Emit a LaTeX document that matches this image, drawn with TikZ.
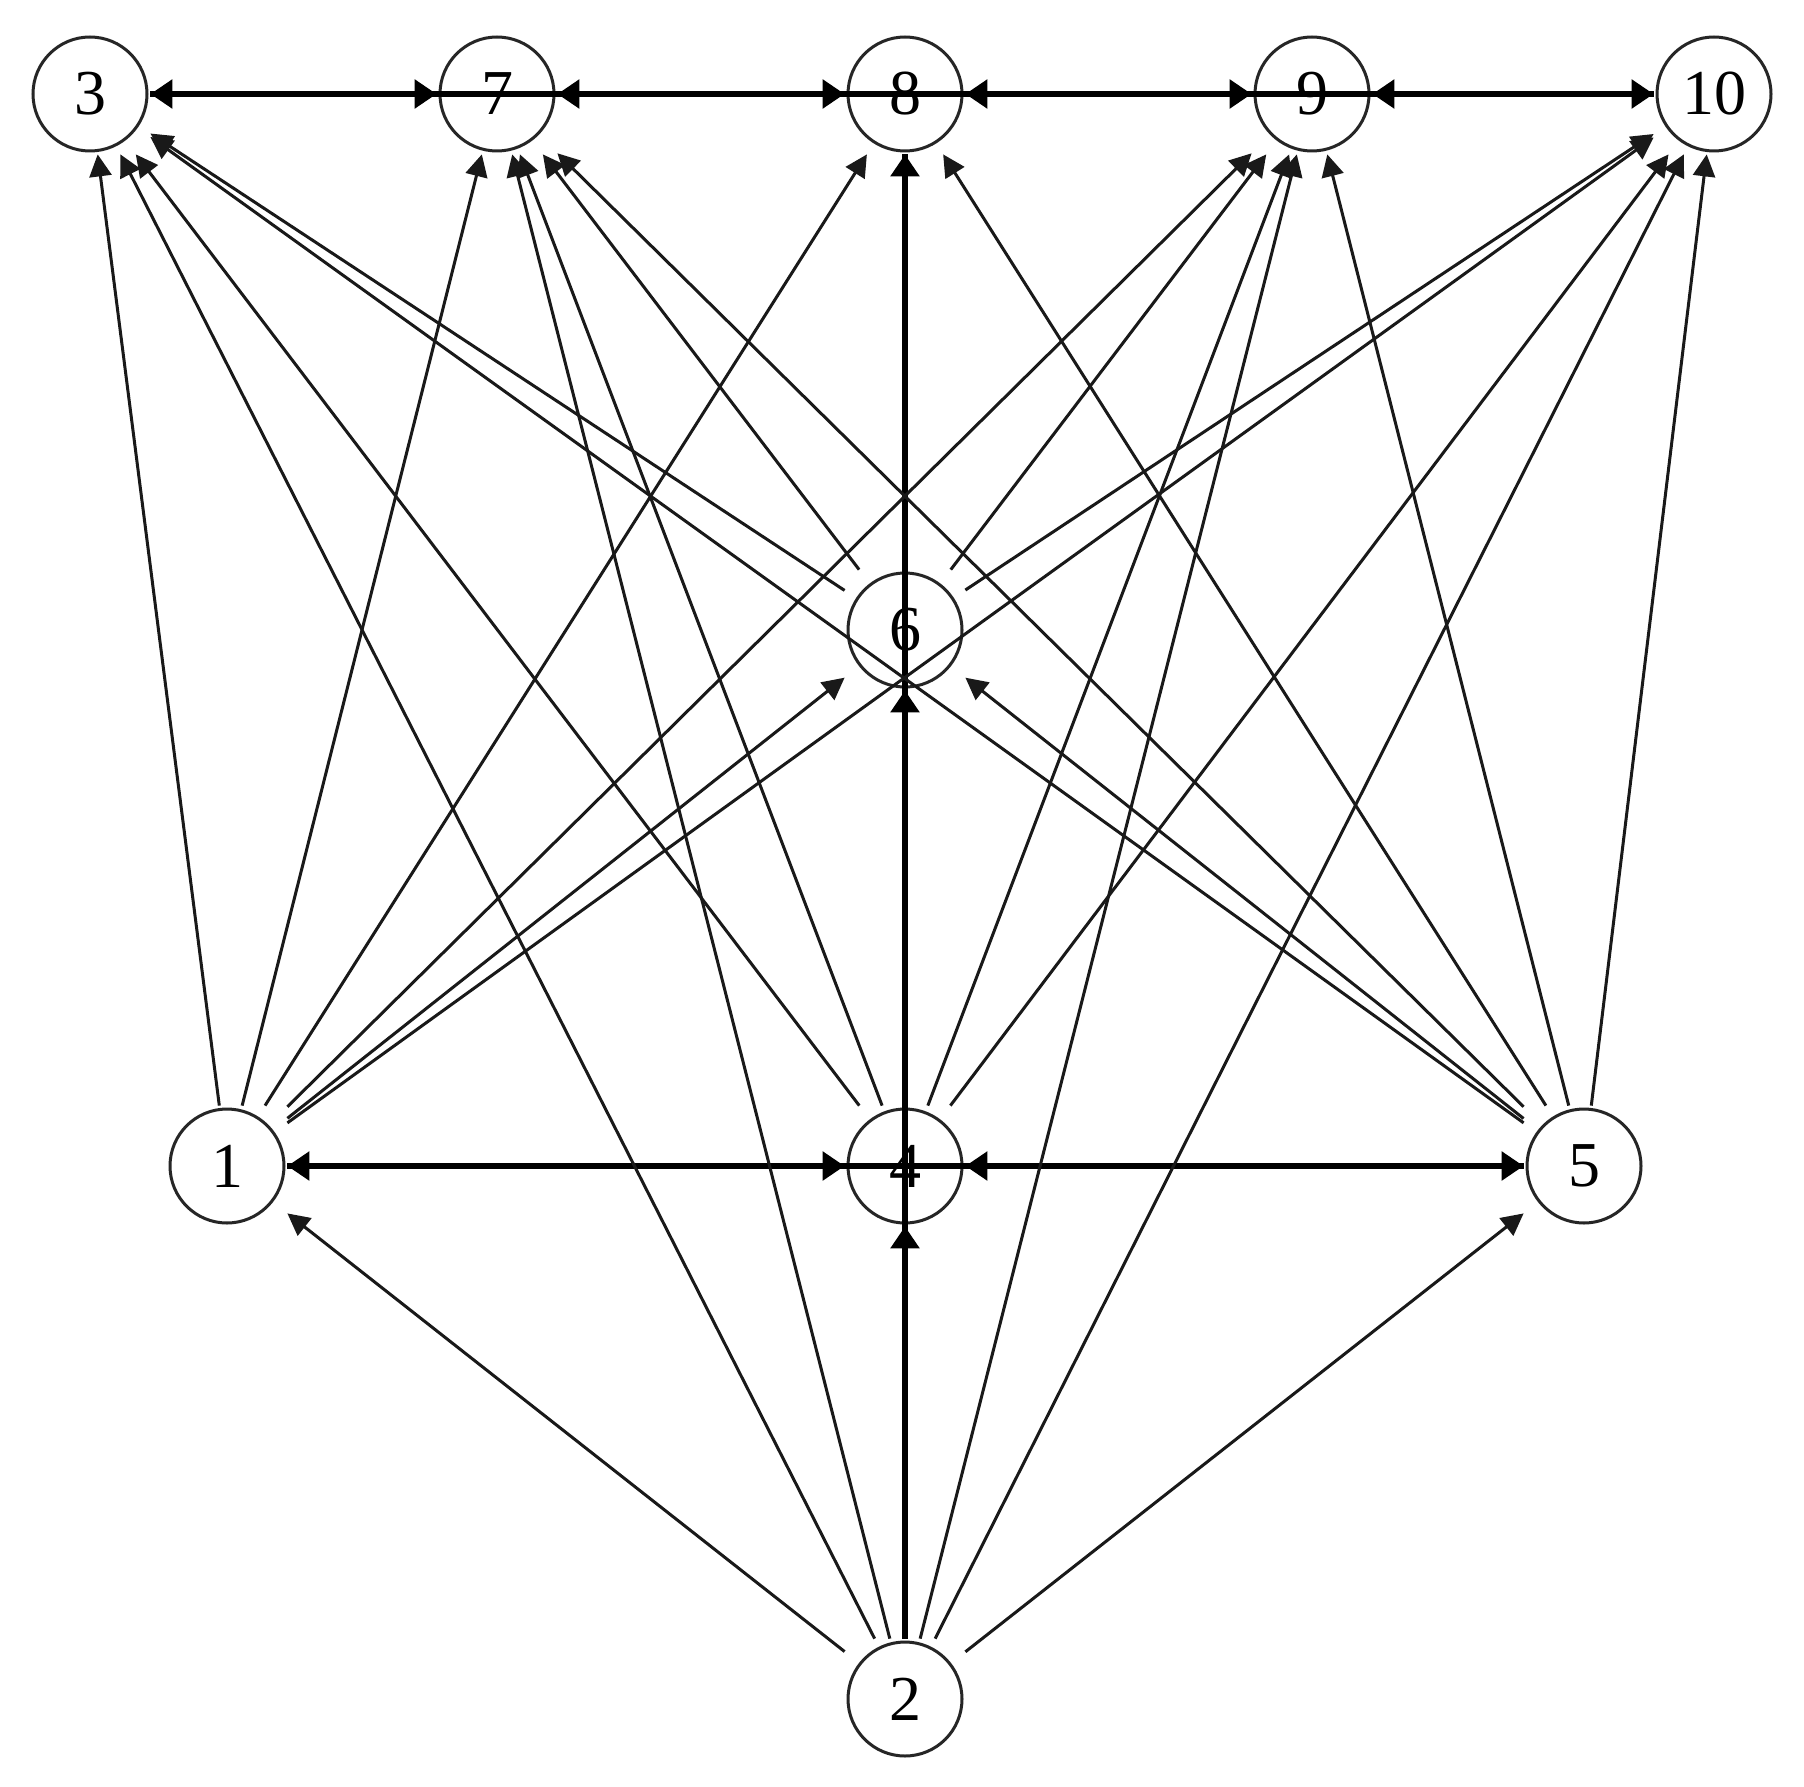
\documentclass[tikz,border=0pt]{standalone}
\usepackage{fontspec}
\setmainfont{Liberation Serif}
\usetikzlibrary{arrows.meta}
\begin{document}
\begin{tikzpicture}[x=0.5pt,y=-0.5pt,
  vx/.style={rectangle, inner sep=0pt, minimum size=60pt,
    font=\fontsize{32}{32}\selectfont,
    path picture={\draw[line width=1.5pt, black!85] (path picture bounding box.center) circle (28.5pt);}},
  ed/.style={line width=1.5pt, black!90, -{Triangle[length=11pt,width=11pt]}},
  tk/.style={line width=2.8pt, -{Triangle[length=11pt,width=14pt]}},
  bi/.style={line width=2.8pt, {Triangle[length=11pt,width=14pt]}-{Triangle[length=11pt,width=14pt]}},
  th/.style={line width=2.8pt}
]
\useasboundingbox (0,0) rectangle (1804,1787);
\fill[white] (0,0) rectangle (1804,1787);

\node[vx] (n3)  at (90,94)    {3};
\node[vx] (n7)  at (497,94)   {7};
\node[vx] (n8)  at (905,94)   {8};
\node[vx] (n9)  at (1312,94)  {9};
\node[vx] (n10) at (1714,94)  {10};
\node[vx] (n6)  at (905,630)  {6};
\node[vx] (n1)  at (227,1166) {1};
\node[vx] (n4)  at (905,1166) {4};
\node[vx] (n5)  at (1584,1166){5};
\node[vx] (n2)  at (905,1699) {2};

% top row
\draw[th] (n3) -- (n10);
\draw[bi] (n3) -- (n7);
\draw[bi] (n7) -- (n8);
\draw[bi] (n8) -- (n9);
\draw[bi] (n9) -- (n10);
% middle row
\draw[th] (n1) -- (n5);
\draw[bi] (n1) -- (n4);
\draw[bi] (n4) -- (n5);
% vertical
\draw[th] (n2) -- (n8);
\draw[tk] (n2) -- (n4);
\draw[tk] (n4) -- (n6);
\draw[tk] (n6) -- (n8);

% from 1
\foreach \t in {n3,n7,n8,n9,n6,n10} \draw[ed] (n1) -- (\t);
% from 2
\foreach \t in {n1,n3,n7,n9,n10,n5} \draw[ed] (n2) -- (\t);
% from 4
\foreach \t in {n3,n7,n9,n10} \draw[ed] (n4) -- (\t);
% from 5
\foreach \t in {n3,n6,n7,n8,n9,n10} \draw[ed] (n5) -- (\t);
% from 6
\foreach \t in {n3,n7,n9,n10} \draw[ed] (n6) -- (\t);
\end{tikzpicture}
\end{document}
